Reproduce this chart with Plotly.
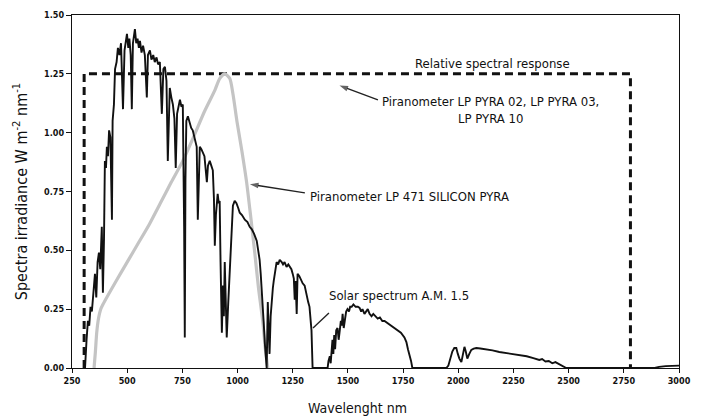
import plotly.graph_objects as go

# Solar spectral irradiance, air mass 1.5 (W m-2 nm-1)
solar_nm = [
    300, 309, 316, 322, 328, 334, 340, 347, 354, 360, 366, 372, 378, 385, 390, 395,
    399, 404, 408, 413, 418, 424, 431, 434, 440, 445, 452, 458, 465, 472, 481, 488,
    494, 499, 505, 510, 516, 521, 526, 530, 535, 541, 547, 553, 558, 565, 572, 580,
    589, 594, 603, 610, 618, 625, 633, 640, 648, 657, 664, 671, 678, 684, 688, 693,
    700, 707, 714, 720, 726, 733, 739, 746, 752, 758, 761, 764, 768, 775, 784, 790,
    797, 805, 810, 815, 820, 825, 829, 836, 843, 850, 855, 861, 866, 874, 881, 888,
    893, 897, 902, 910, 915, 919, 923, 929, 934, 938, 942, 947, 951, 958, 965, 972,
    979, 987, 995, 1003, 1010, 1020, 1033, 1045, 1055, 1064, 1075, 1087, 1095, 1100,
    1105, 1109, 1114, 1118, 1124, 1128, 1132, 1137, 1141, 1145, 1150, 1155, 1160, 1164,
    1170, 1177, 1184, 1191, 1200, 1206, 1213, 1222, 1230, 1236, 1244, 1250, 1255, 1259,
    1263, 1268, 1272, 1280, 1288, 1295, 1304, 1312, 1320, 1326, 1331, 1335, 1340, 1408,
    1412, 1418, 1422, 1426, 1430, 1434, 1438, 1442, 1447, 1453, 1458, 1462, 1468, 1472,
    1476, 1481, 1486, 1492, 1498, 1505, 1510, 1517, 1525, 1535, 1545, 1553, 1560, 1566,
    1575, 1583, 1590, 1598, 1607, 1615, 1625, 1635, 1645, 1656, 1666, 1680, 1695, 1711,
    1725, 1740, 1756, 1765, 1772, 1779, 1786, 1792, 1946, 1955, 1963, 1973, 1982, 1991,
    1998, 2005, 2014, 2020, 2028, 2034, 2041, 2050, 2059, 2070, 2082, 2100, 2127, 2155,
    2186, 2210, 2240, 2276, 2310, 2340, 2367, 2380, 2395, 2410, 2426, 2440, 2457, 2475,
    2489, 2890, 2910, 2940, 2968, 3000,
]
solar_irr = [
    0.00, 0.00, 0.12, 0.20, 0.18, 0.26, 0.24, 0.33, 0.40, 0.30, 0.45, 0.49, 0.42, 0.60, 0.32, 0.55,
    0.88, 0.85, 0.94, 0.90, 1.01, 0.98, 0.63, 1.05, 1.12, 1.27, 1.30, 1.36, 1.33, 1.38, 1.10, 1.35,
    1.38, 1.42, 1.36, 1.40, 1.33, 1.10, 1.38, 1.40, 1.44, 1.38, 1.40, 1.36, 1.39, 1.34, 1.37, 1.33,
    1.15, 1.33, 1.35, 1.31, 1.33, 1.30, 1.32, 1.29, 1.30, 1.08, 1.27, 1.28, 1.22, 0.88, 1.10, 1.19,
    1.15, 1.12, 1.06, 0.85, 1.08, 1.12, 1.14, 1.11, 1.12, 0.60, 0.13, 0.80, 1.05, 1.07, 1.04, 1.02,
    1.01, 0.98, 0.96, 0.94, 0.63, 0.90, 0.94, 0.93, 0.91, 0.90, 0.85, 0.79, 0.86, 0.88, 0.86, 0.84,
    0.72, 0.52, 0.65, 0.74, 0.70, 0.71, 0.45, 0.15, 0.35, 0.22, 0.45, 0.30, 0.13, 0.28, 0.40, 0.55,
    0.69, 0.71, 0.70, 0.68, 0.66, 0.65, 0.63, 0.62, 0.60, 0.59, 0.57, 0.54, 0.50, 0.46,
    0.40, 0.35, 0.25, 0.20, 0.10, 0.04, 0.00, 0.28, 0.12, 0.06, 0.22, 0.30, 0.34, 0.37,
    0.42, 0.45, 0.44, 0.46, 0.45, 0.44, 0.45, 0.43, 0.44, 0.43, 0.42, 0.40, 0.38, 0.29,
    0.37, 0.23, 0.40, 0.39, 0.37, 0.36, 0.35, 0.31, 0.28, 0.26, 0.20, 0.16, 0.00, 0.00,
    0.03, 0.05, 0.02, 0.09, 0.12, 0.06, 0.14, 0.08, 0.16, 0.17, 0.12, 0.15, 0.20, 0.18,
    0.23, 0.17, 0.21, 0.24, 0.25, 0.24, 0.26, 0.26, 0.27, 0.26, 0.26, 0.255, 0.24, 0.25,
    0.23, 0.24, 0.25, 0.23, 0.22, 0.23, 0.22, 0.21, 0.215, 0.20, 0.20, 0.19, 0.18, 0.17,
    0.16, 0.15, 0.13, 0.11, 0.08, 0.06, 0.03, 0.00, 0.00, 0.01, 0.04, 0.07, 0.085, 0.085,
    0.06, 0.04, 0.025, 0.06, 0.09, 0.07, 0.04, 0.06, 0.077, 0.082, 0.085, 0.083, 0.08, 0.075,
    0.068, 0.065, 0.06, 0.055, 0.05, 0.042, 0.034, 0.038, 0.028, 0.03, 0.02, 0.025, 0.015, 0.008,
    0.00, 0.00, 0.005, 0.008, 0.01, 0.01,
]

# Silicon pyranometer LP 471 relative response (scaled to 1.25)
silicon_nm = [350, 356, 362, 370, 380, 390, 450, 500, 550, 600, 650, 700, 752, 800, 850,
              897, 919, 942, 965, 980, 997, 1020, 1041, 1060, 1078, 1095, 1114, 1126, 1137]
silicon_resp = [0.00, 0.07, 0.15, 0.21, 0.25, 0.27, 0.37, 0.45, 0.53, 0.61, 0.70, 0.79, 0.88,
                0.98, 1.09, 1.18, 1.23, 1.25, 1.23, 1.16, 1.05, 0.92, 0.79, 0.64, 0.49, 0.34,
                0.20, 0.08, 0.00]

# Thermopile pyranometers LP PYRA 02/03/10: flat response band
pyra_nm = [305, 305, 2780, 2780]
pyra_resp = [0.00, 1.25, 1.25, 0.00]

x_ticks = [250, 500, 750, 1000, 1250, 1500, 1750, 2000, 2250, 2500, 2750, 3000]
y_ticks = [0.00, 0.25, 0.50, 0.75, 1.00, 1.25, 1.50]

FONT = "Liberation Sans Narrow, Arial Narrow, DejaVu Sans Condensed, sans-serif"

fig = go.Figure()
fig.add_trace(go.Scatter(x=pyra_nm, y=pyra_resp, mode="lines",
                         line=dict(color="#111111", width=3, dash="8px,5px"),
                         hoverinfo="skip"))
fig.add_trace(go.Scatter(x=silicon_nm, y=silicon_resp, mode="lines",
                         line=dict(color="#c4c4c4", width=3.2, shape="spline", smoothing=0.6),
                         hoverinfo="skip"))
fig.add_trace(go.Scatter(x=solar_nm, y=solar_irr, mode="lines",
                         line=dict(color="#111111", width=1.9),
                         hoverinfo="skip"))

# Leader lines from each label to its curve: (tail, head) in data units
leaders = [
    dict(x=[1636, 1462], y=[1.139, 1.200], head=True),
    dict(x=[1305, 1056], y=[0.744, 0.781], head=True),
    dict(x=[1414, 1342], y=[0.234, 0.170], head=False),
]
for ld in leaders:
    fig.add_trace(go.Scatter(
        x=ld["x"], y=ld["y"], mode="lines+markers" if ld["head"] else "lines",
        line=dict(color="#222222", width=1.4),
        marker=dict(symbol="arrow", size=[0, 9], angleref="previous", color="#222222",
                    line=dict(width=0)),
        hoverinfo="skip"))

label_font = dict(family=FONT, size=13, color="#111111")
labels = [
    dict(x=2157, y=1.292, text="Relative spectral response"),
    dict(x=2148, y=1.096, text="Piranometer LP PYRA 02, LP PYRA 03,<br>LP PYRA 10"),
    dict(x=1777, y=0.727, text="Piranometer LP 471 SILICON PYRA"),
    dict(x=1731, y=0.310, text="Solar spectrum A.M. 1.5"),
]
for lb in labels:
    fig.add_annotation(x=lb["x"], y=lb["y"], text=lb["text"], showarrow=False,
                       xanchor="center", yanchor="middle", align="center", font=label_font)

tick_font = dict(family=FONT, size=9, color="#111111", weight="bold")
# trailing non-breaking spaces move the x title slightly left of the axis centre
fig.update_xaxes(range=[250, 3000], tickvals=x_ticks, ticktext=[str(v) for v in x_ticks],
                 title=dict(text="Wavelenght nm" + "&nbsp;" * 9, standoff=18,
                            font=dict(family=FONT, size=14, color="#111111")),
                 showline=True, linecolor="#111111", linewidth=1.3, mirror=True,
                 ticks="outside", ticklen=4, tickcolor="#111111", tickwidth=1,
                 showgrid=False, zeroline=False, tickfont=tick_font)
fig.update_yaxes(range=[0, 1.5], tickvals=y_ticks, ticktext=[f"{v:.2f}" for v in y_ticks],
                 title=dict(text="Spectra irradiance W m<sup>-2</sup> nm<sup>-1</sup>", standoff=12,
                            font=dict(family=FONT, size=16, color="#111111")),
                 showline=True, linecolor="#111111", linewidth=1.3, mirror=True,
                 ticks="outside", ticklen=5, tickcolor="#111111", tickwidth=1,
                 showgrid=False, zeroline=False, tickfont=tick_font)

fig.update_layout(width=705, height=418, margin=dict(l=72, r=26, t=15, b=50, autoexpand=False),
                  paper_bgcolor="white", plot_bgcolor="white", showlegend=False)

fig.write_html("out.html")
